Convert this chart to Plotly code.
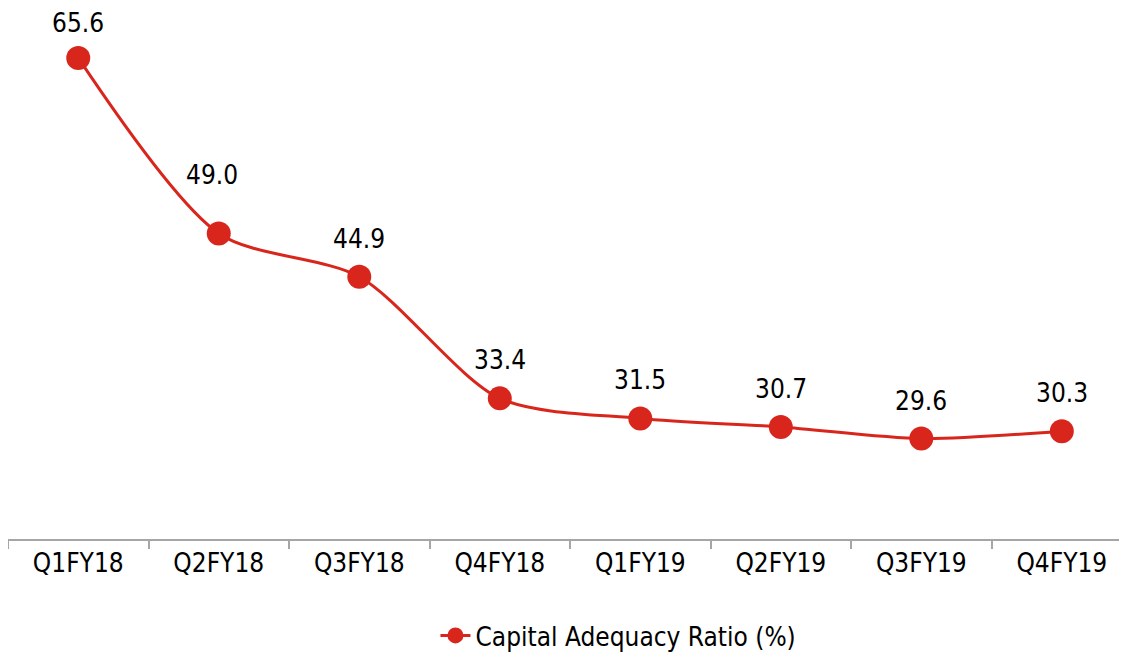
import plotly.graph_objects as go

# Capital adequacy ratio by quarter
quarters = ['Q1FY18', 'Q2FY18', 'Q3FY18', 'Q4FY18',
            'Q1FY19', 'Q2FY19', 'Q3FY19', 'Q4FY19']
car_values = [65.6, 49.0, 44.9, 33.4, 31.5, 30.7, 29.6, 30.3]

RED = '#D9261C'
FONT = 'DejaVu Sans Condensed'

trace = go.Scatter(x=quarters,
                   y=car_values,
                   mode='lines+markers',
                   name='Capital Adequacy Ratio (%)',
                   line={'color': RED, 'width': 3, 'shape': 'spline', 'smoothing': 0.8},
                   marker={'color': RED, 'size': 24},
                   )

# value labels sit above each marker (a couple are nudged like the original)
extra_shift = {'Q1FY18': (0, -3), 'Q2FY18': (-7, 20)}
labels = []
for q, v in zip(quarters, car_values):
    dx, dy = extra_shift.get(q, (0, 0))
    labels.append(dict(x=q, y=v, text=f'{v:.1f}', showarrow=False,
                       xshift=dx, yshift=38 + dy, yanchor='middle', borderpad=0,
                       font={'size': 26, 'color': '#000000', 'family': FONT}))

# page body has an 8px margin, so the figure is sized to fit inside the window
layout = go.Layout(width=1119, height=651,
                   margin=dict(l=0, r=0, t=0, b=119),
                   plot_bgcolor='white', paper_bgcolor='white',
                   font={'family': FONT, 'size': 26, 'color': '#000000'},
                   xaxis=dict(type='category',
                              range=[-0.5, 7.464],
                              showline=True, linecolor='#A6A6A6', linewidth=1.5,
                              ticks='outside', tickson='boundaries',
                              ticklen=8, tickcolor='#A6A6A6', tickwidth=1.5,
                              showgrid=False, zeroline=False,
                              tickfont={'size': 26}),
                   yaxis=dict(range=[20.1, 70.32], visible=False,
                              showgrid=False, zeroline=False),
                   showlegend=True,
                   legend=dict(orientation='h', x=0.382, xanchor='left',
                               y=-0.182, yanchor='middle',
                               font={'size': 26}, itemwidth=30),
                   annotations=labels,
                   )

fig = go.Figure(data=[trace], layout=layout)
fig.write_html("out.html")
